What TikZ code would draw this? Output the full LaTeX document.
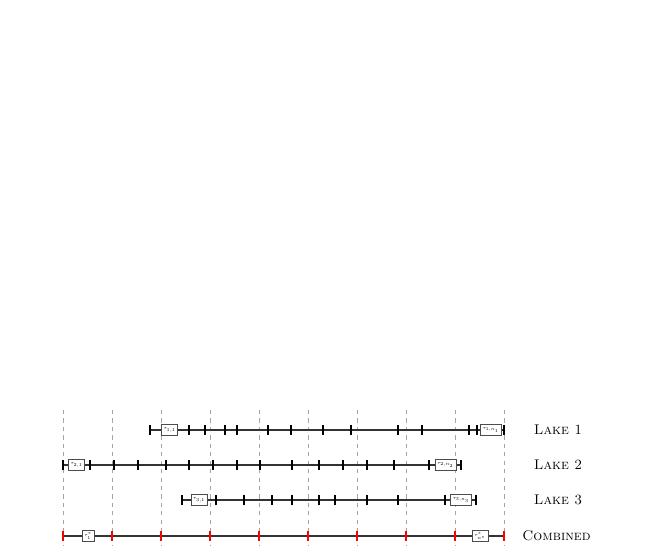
\documentclass[tikz,border=0pt]{standalone}
\begin{document}
\begin{tikzpicture}[x=0.025cm,y=-0.025cm,
  tick/.style={black,line width=0.9pt},
  ctick/.style={red,line width=0.9pt},
  tline/.style={black!80,line width=0.8pt},
  vgrid/.style={gray!70,dashed,line width=0.3pt},
  tbox/.style={draw=black!70,fill=white,font=\tiny,inner xsep=1.5pt,inner ysep=1pt,minimum height=0.27cm}]
  \newcommand{\lbl}[1]{\scalebox{0.65}{$#1$}}
  \useasboundingbox (0,0) rectangle (651,553);
  % vertical guides
  \foreach \x in {63,112,...,504}
    \draw[vgrid] (\x,410) -- (\x,546);
  % lake 1
  \coordinate (s1) at (150,430);
  \coordinate (e1) at (504,430);
  \draw[tline] (s1) -- (e1);
  \foreach \x in {150,189,205,225,237,268,291,323,351,398,422,469,477,504}
    \draw[tick] (\x,430) ++(0,-5) -- ++(0,10);
  \node[tbox] (t11) at (169.5,430) {\lbl{\tau_{1,1}}};
  \node[tbox] (t1n) at (490.7,430) {\lbl{\tau_{1,n_1}}};
  \node (lake1) at (558,430) {\textsc{Lake 1}};
  % lake 2
  \coordinate (s2) at (63,465);
  \coordinate (e2) at (461,465);
  \draw[tline] (s2) -- (e2);
  \foreach \x in {63,90,114,138,166,189,213,237,260,292,319,343,367,394,429,461}
    \draw[tick] (\x,465) ++(0,-5) -- ++(0,10);
  \node[tbox] (t21) at (76.5,465) {\lbl{\tau_{2,1}}};
  \node[tbox] (t2n) at (445.5,465) {\lbl{\tau_{2,n_2}}};
  \node (lake2) at (558,465) {\textsc{Lake 2}};
  % lake 3
  \coordinate (s3) at (182,500);
  \coordinate (e3) at (476,500);
  \draw[tline] (s3) -- (e3);
  \foreach \x in {182,216,244,272,292,319,335,367,398,445,476}
    \draw[tick] (\x,500) ++(0,-5) -- ++(0,10);
  \node[tbox] (t31) at (199,500) {\lbl{\tau_{3,1}}};
  \node[tbox] (t3n) at (461,500) {\lbl{\tau_{3,n_3}}};
  \node (lake3) at (558,500) {\textsc{Lake 3}};
  % combined
  \coordinate (sc) at (63,536);
  \coordinate (ec) at (504,536);
  \draw[tline] (sc) -- (ec);
  \foreach \x in {63,112,...,504}
    \draw[ctick] (\x,536) ++(0,-5) -- ++(0,10);
  \node[tbox] (tc1) at (88,536) {\lbl{\tau^*_1}};
  \node[tbox] (tcn) at (480,536) {\lbl{\tau^*_{n^*}}};
  \node (comb) at (556.5,536) {\textsc{Combined}};
\end{tikzpicture}
\end{document}
